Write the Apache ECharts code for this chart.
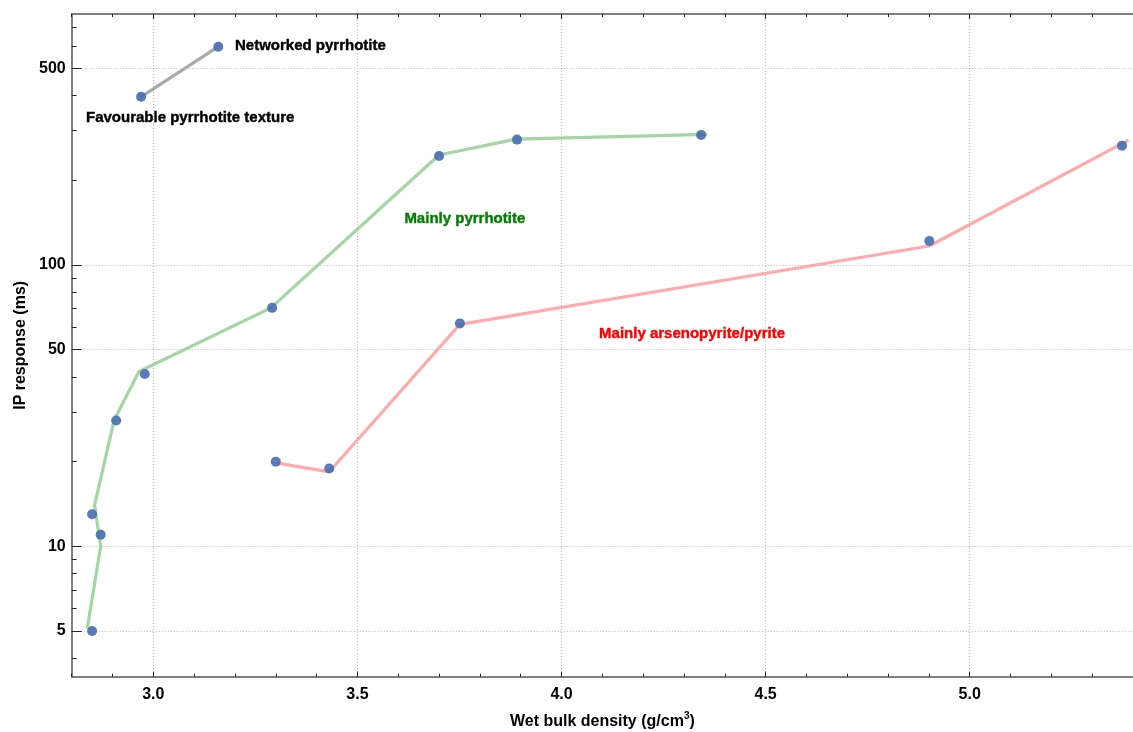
<!DOCTYPE html>
<html>
<head>
<meta charset="utf-8">
<script src="https://cdn.jsdelivr.net/npm/echarts@6/dist/echarts.min.js"></script>
<style>
html,body{margin:0;padding:0;background:#fff;}
#c{width:1133px;height:732px;}
</style>
</head>
<body>
<div id="c"></div>
<script>
// ---- data ----
const xMajorTicks = [3.0, 3.5, 4.0, 4.5, 5.0];
const yMajorTicks = [5, 10, 50, 100, 500];
const yMinorTicks = [4, 6, 7, 8, 9, 20, 30, 40, 60, 70, 80, 90, 200, 300, 400, 600, 700];

// samples (points)
const pyrrhotitePoints = [[2.850, 5.0], [2.871, 11.0], [2.850, 13.0], [2.909, 28.0], [2.979, 41.0], [3.291, 70.4], [3.700, 244], [3.891, 279], [4.342, 290]];
const arsenopyritePoints = [[3.300, 20.0], [3.431, 18.9], [3.751, 62.0], [4.901, 121.7], [5.373, 265.6]];
const texturePoints = [[2.970, 396], [3.159, 597]];

// trend lines
const pyrrhotiteTrend = [[2.838, 5.1], [2.871, 10.0], [2.856, 14.0], [2.904, 28.1], [2.965, 41.8], [3.288, 70.4], [3.700, 246], [3.889, 280], [4.357, 291]];
const arsenopyriteTrend = [[3.300, 19.8], [3.431, 18.4], [3.751, 61.5], [4.901, 116.8], [5.389, 278]];
const textureTrend = [[2.970, 396], [3.159, 597]];

// annotations
const annotationTexts = ['Networked pyrrhotite', 'Favourable pyrrhotite texture', 'Mainly pyrrhotite', 'Mainly arsenopyrite/pyrite'];
const annotationAt = [[3.200, 600], [2.835, 333], [3.615, 146], [4.092, 57]];
const annotationColors = ['#000000', '#000000', '#007f00', '#ff0000'];

// ---- chart ----
const FONT = '"Liberation Sans", Arial, sans-serif';
const X_MIN = 2.8, X_MAX = 5.4, Y_MIN = 3.44, Y_MAX = 780;
const axisLineStyle = {color: '#555555', width: 1.5};
const gridLineStyle = {color: '#b8b8b8', width: 1, type: [1, 2]};

function xAx(pos, major, showLine) {
  return {
    type: 'value', position: pos, min: X_MIN, max: X_MAX,
    interval: major ? undefined : 0.1,
    axisLine: {show: showLine, lineStyle: axisLineStyle},
    axisTick: major ? {show: true, inside: true, length: 5, customValues: xMajorTicks, lineStyle: {color: '#222', width: 1}}
                    : {show: true, inside: true, length: 3, lineStyle: {color: '#222', width: 1}},
    axisLabel: {show: false},
    splitLine: {show: false}
  };
}
function yAx(major, showLine) {
  return {
    type: 'log', logBase: 10, position: 'left', min: Y_MIN, max: Y_MAX,
    axisLine: {show: showLine, lineStyle: axisLineStyle},
    axisTick: major ? {show: true, inside: true, length: 10, customValues: yMajorTicks, lineStyle: {color: '#222', width: 1}}
                    : {show: true, inside: true, length: 5, customValues: yMinorTicks, lineStyle: {color: '#222', width: 1}},
    axisLabel: {show: false},
    splitLine: {show: false}
  };
}

const xMain = xAx('bottom', true, true);
xMain.axisLabel = {show: true, customValues: xMajorTicks, margin: 10, fontSize: 16, fontWeight: 'bold', color: '#000', fontFamily: FONT,
  formatter: v => Number(v).toFixed(1)};
xMain.splitLine = {show: true, lineStyle: gridLineStyle};
xMain.name = 'Wet bulk density (g/cm{sup|3})';
xMain.nameLocation = 'middle';
xMain.nameGap = 35;
xMain.nameTextStyle = {fontSize: 16, fontWeight: 'bold', color: '#000', fontFamily: FONT,
  rich: {sup: {fontSize: 10, fontWeight: 'bold', color: '#000', fontFamily: FONT, verticalAlign: 'top', padding: [0, 0, 9, 0]}}};

const yMain = yAx(true, true);
yMain.axisLabel = {show: true, customValues: yMajorTicks, margin: 6, fontSize: 16, fontWeight: 'bold', color: '#000', fontFamily: FONT};
yMain.splitLine = {show: true, lineStyle: gridLineStyle};
yMain.name = 'IP response (ms)';
yMain.nameLocation = 'middle';
yMain.nameGap = 39;
yMain.nameTextStyle = {fontSize: 16, fontWeight: 'bold', color: '#000', fontFamily: FONT};

const pointColor = '#4a6fb0';

const option = {
  backgroundColor: '#ffffff',
  animation: false,
  textStyle: {fontFamily: FONT},
  grid: {left: 71.7, right: 0, top: 14, bottom: 55.3, containLabel: false, outerBoundsMode: 'none'},
  xAxis: [xMain, xAx('bottom', false, false), xAx('top', true, true), xAx('top', false, false)],
  yAxis: [yMain, yAx(false, false)],
  series: [
    {type: 'line', data: pyrrhotiteTrend, showSymbol: false, lineStyle: {color: '#a3d6a3', width: 3.2}, z: 2},
    {type: 'line', data: arsenopyriteTrend, showSymbol: false, lineStyle: {color: '#ffabab', width: 3.2}, z: 2},
    {type: 'line', data: textureTrend, showSymbol: false, lineStyle: {color: '#aaaaaa', width: 3.2}, z: 2},
    {type: 'scatter', data: pyrrhotitePoints.concat(arsenopyritePoints, texturePoints), symbolSize: 10,
      itemStyle: {color: pointColor, opacity: 0.92}, z: 3},
    {type: 'scatter', symbolSize: 0, z: 4, silent: true,
      itemStyle: {opacity: 1},
      data: annotationTexts.map((t, i) => ({value: annotationAt[i], name: t,
        label: {color: annotationColors[i], textBorderColor: annotationColors[i], textBorderWidth: 0.4}})),
      label: {show: true, position: 'right', distance: 0, formatter: p => p.name, opacity: 1,
        fontSize: 15, fontWeight: 'bold', fontFamily: FONT, align: 'left', verticalAlign: 'middle'}}
  ]
};

const chart = echarts.init(document.getElementById('c'), null, {renderer: 'canvas'});
chart.setOption(option);
</script>
</body>
</html>
